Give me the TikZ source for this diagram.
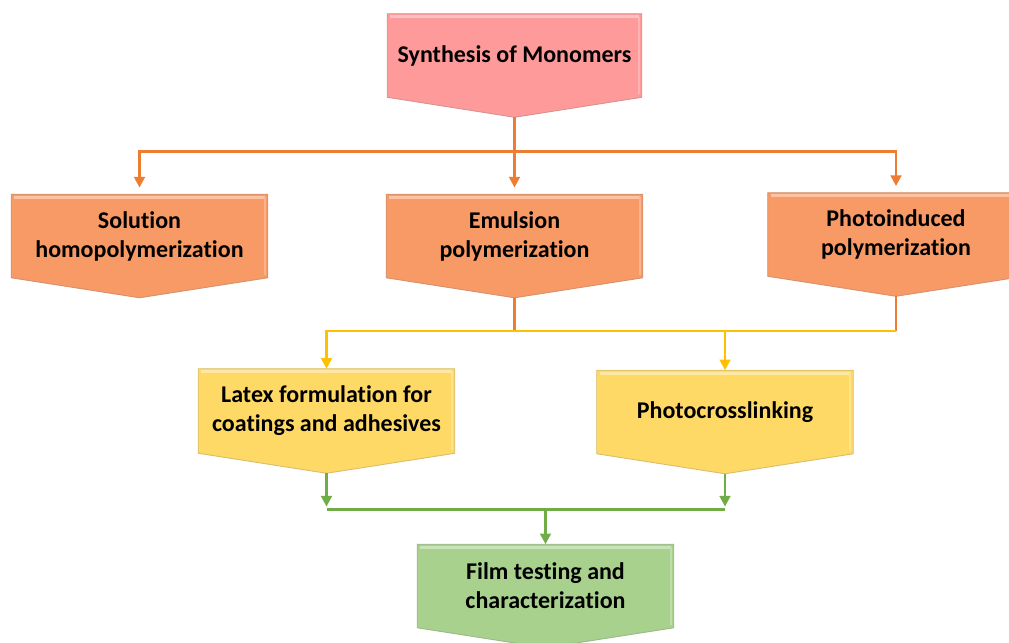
\documentclass[tikz,border=0pt]{standalone}
\usepackage{fontspec}
\setmainfont[Ligatures=NoCommon]{Carlito}
\usetikzlibrary{arrows.meta,calc,backgrounds}
\definecolor{pinkfill}{HTML}{FF9A9A}
\definecolor{orangefill}{HTML}{F89A66}
\definecolor{yellowfill}{HTML}{FFD966}
\definecolor{greenfill}{HTML}{A9D18E}
\definecolor{oline}{HTML}{ED7D31}
\definecolor{yline}{HTML}{FFC000}
\definecolor{gline}{HTML}{70AD47}
\tikzset{
  chev/.style={minimum width=192pt, minimum height=62.25pt, inner sep=0pt, align=center,
    font=\fontsize{18}{21.7}\selectfont\bfseries},
  conn/.style={line width=1.9pt},
  tipped/.style={-{Triangle[width=8pt,length=8pt]}},
}
\newcommand\chevshape[2]{%
  \begin{pgfonlayer}{background}
    \filldraw[fill=#2, draw=#2!70!gray, line width=0.7pt]
      (#1.north west) -- (#1.north east) -- (#1.south east)
      -- ($(#1.south)+(0,20)$) coordinate (#1-tip) -- (#1.south west) -- cycle;
    \draw[#2!60!white, line width=2pt]
      ($(#1.north west)+(3,3)$) -- ($(#1.north east)+(-3,3)$);
    \draw[#2!75!white, line width=1.6pt]
      ($(#1.north east)+(-3,3)$) -- ($(#1.south east)+(-3,-3)$);
  \end{pgfonlayer}}
\begin{document}
\begin{tikzpicture}[x=0.75pt,y=-0.75pt]
\useasboundingbox (0,0) rectangle (1009,642);
\clip (0,0) rectangle (1009,642);

\node[chev, minimum width=190.5pt] (syn) at (514.5,55.5) {Synthesis of Monomers};
\chevshape{syn}{pinkfill}

\node[chev] (sol) at (139.5,236) {Solution\\homopolymerization};
\chevshape{sol}{orangefill}
\node[chev] (emu) at (514.5,236) {Emulsion\\polymerization};
\chevshape{emu}{orangefill}
\node[chev] (pho) at (896,234.5) {Photoinduced\\polymerization};
\chevshape{pho}{orangefill}

\node[chev, minimum height=63pt] (lat) at (326.5,411) {Latex formulation for\\coatings and adhesives};
\chevshape{lat}{yellowfill}
\node[chev] (pc) at (725,412) {Photocrosslinking};
\chevshape{pc}{yellowfill}

\node[chev] (film) at (545.5,586) {Film testing and\\characterization};
\chevshape{film}{greenfill}

% orange connectors
\coordinate (j1) at ($(syn-tip)+(0,34)$);
\draw[conn,oline] (syn-tip) -- (j1);
\draw[conn,oline,tipped,shorten >=5pt] (j1) -| (sol.north);
\draw[conn,oline,tipped,shorten >=5pt] (j1) -| (pho.north);
\draw[conn,oline,tipped,shorten >=5pt] (j1) -- (emu.north);

% yellow connectors
\coordinate (j2) at ($(emu-tip)+(0,33)$);
\draw[conn,oline] (emu-tip) -- (j2);
\draw[conn,oline] (pho-tip) -- (pho-tip |- j2);
\draw[conn,yline] (pho-tip |- j2) -- (j2);
\draw[conn,yline,tipped] (j2) -| (lat.north);
\draw[conn,yline,tipped] (pc.north |- j2) -- (pc.north);

% green connectors
\coordinate (j3) at ($(lat-tip)+(0,36)$);
\draw[conn,gline,tipped,shorten >=2pt] (lat-tip) -- (j3);
\draw[conn,gline,tipped,shorten >=2pt] (pc-tip) -- (pc-tip |- j3);
\draw[conn,gline] (j3) -- (pc-tip |- j3);
\draw[conn,gline,tipped] (film.north |- j3) -- (film.north);
\end{tikzpicture}
\end{document}
